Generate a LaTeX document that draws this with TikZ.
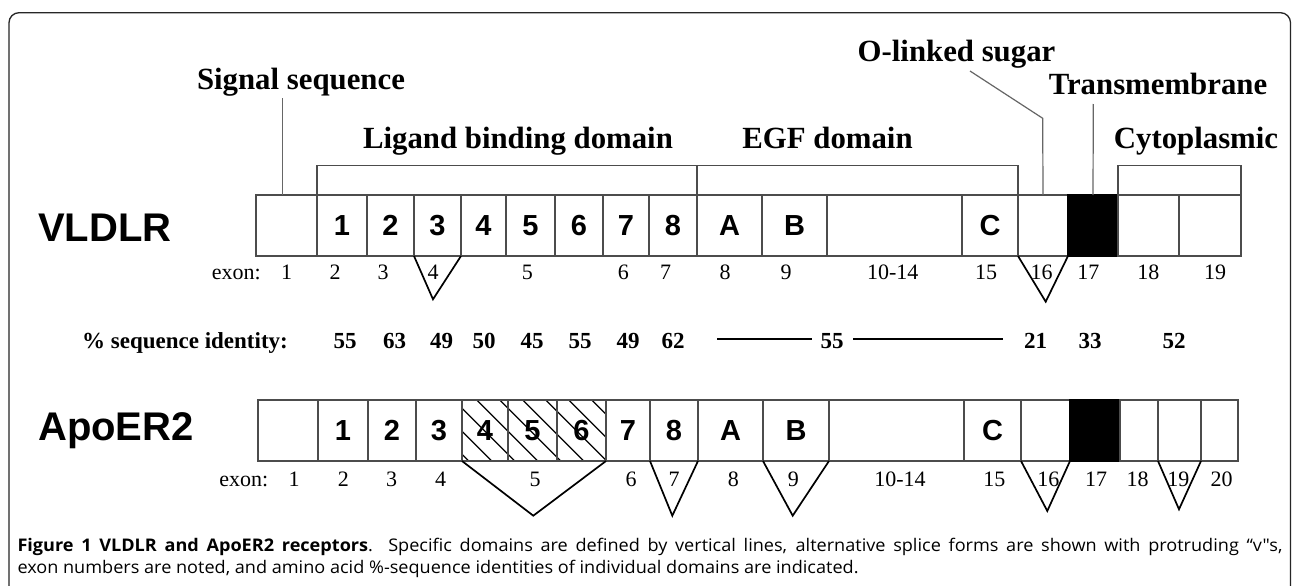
\documentclass[tikz,border=0pt]{standalone}
\usepackage{fontspec}
\setmainfont{Liberation Serif}
\newfontfamily\hsans{Liberation Sans}
\newfontfamily\capfont[FakeStretch=1.04]{Open Sans}
\definecolor{boxgray}{gray}{0.3}
\definecolor{leadgray}{gray}{0.4}
\tikzset{
  segb/.style={draw=boxgray, line width=1.4pt, minimum height=61pt, inner sep=0pt, outer sep=0pt,
    font=\hsans\bfseries\fontsize{29}{29}\selectfont},
  blackbox/.style={fill=black, draw=black},
  lab/.style={font=\bfseries\fontsize{30.8}{30.8}\selectfont, inner sep=0pt, anchor=base},
  prot/.style={font=\hsans\bfseries\fontsize{40}{40}\selectfont, inner sep=0pt, anchor=base west},
  exl/.style={font=\fontsize{22}{22}\selectfont, inner sep=0pt, anchor=base},
  idl/.style={font=\bfseries\fontsize{23}{23}\selectfont, inner sep=0pt, anchor=base},
  vline/.style={draw=black, line width=1.7pt, line join=miter},
  brk/.style={draw=boxgray, line width=1.5pt},
  lead/.style={draw=leadgray, line width=1.2pt},
  hatch/.style={draw=black, line width=1.2pt},
  idline/.style={draw=black, line width=1.7pt},
  framel/.style={draw=black!85, line width=1.3pt, rounded corners=10pt},
  capl/.style={font=\capfont\fontsize{17.4}{17.4}\selectfont, inner sep=0pt, anchor=base west}
}
\newcommand\seg[5]{\node[segb, minimum width={#3pt-#2pt}, #5] (#1) at ({(#2+#3)/2},\rowy) {#4};}
\begin{document}
\begin{tikzpicture}[x=1pt,y=-1pt]
\clip (0,0) rectangle (1293,586);
\fill[white] (0,0) rectangle (1293,586);
\draw[framel] (9,620) -- (9,12.7) -- (1290.5,12.7) -- (1290.5,620);

% ---------- VLDLR row ----------
\def\rowy{225.5}
\seg{a0}{256}{317}{}{}
\seg{a1}{317}{367}{1}{}
\seg{a2}{367}{414}{2}{}
\seg{a3}{414}{461}{3}{}
\seg{a4}{461}{506}{4}{}
\seg{a5}{506}{555}{5}{}
\seg{a6}{555}{603}{6}{}
\seg{a7}{603}{649}{7}{}
\seg{a8}{649}{697}{8}{}
\seg{aA}{697}{762}{A}{}
\seg{aB}{762}{827}{B}{}
\seg{aD}{827}{962}{}{}
\seg{aC}{962}{1018}{C}{}
\seg{a16}{1018}{1068}{}{}
\seg{a17}{1068}{1118}{}{blackbox}
\seg{a18}{1118}{1179}{}{}
\seg{a19}{1179}{1241}{}{}
\node[prot] (vldlr) at (38,241.7) {VLDLR};

% brackets and labels
\coordinate (brky) at (0,165.7);
\draw[brk] (a1.north west) -- (a1.north west |- brky) -- (aC.north east |- brky) -- (aC.north east);
\draw[brk, line width=2.6pt] (a8.north east) -- (a8.north east |- brky);
\draw[brk] (a18.north west) -- (a18.north west |- brky) -- (a19.north east |- brky) -- (a19.north east);

\node[lab] (sig) at (301,89) {Signal sequence};
\node[lab] (lig) at (518,148) {Ligand binding domain};
\node[lab] (egf) at (827.5,148) {EGF domain};
\node[lab] (olink) at (956.5,61.7) {O-linked sugar};
\node[lab] (tm) at (1158,95) {Transmembrane};
\node[lab] (cyto) at (1196,148) {Cytoplasmic};

\coordinate (sigc) at (282.7,98);
\draw[lead] (sigc) -- (sigc |- a0.north);
\coordinate (olk1) at (970,71);
\coordinate (olk2) at (1042.7,118.3);
\draw[lead] (olk1) -- (olk2) -- (a16.north);
\coordinate (tmc) at (1093.3,104);
\draw[lead] (tmc) -- (a17.north);

% splice Vs VLDLR
\coordinate (va4) at (433,299.3);
\draw[vline] (a3.south west) -- (va4) -- (a3.south east);
\coordinate (va16) at (1045.7,301.7);
\draw[vline] (a16.south west) -- (va16) -- (a16.south east);

% exon numbers VLDLR
\node[exl] (exa) at (236.2,279.3) {exon:};
\foreach \x/\t [count=\i] in {286.7/1, 335/2, 383/3, 433/4, 527.3/5, 623.3/6, 665.7/7, 725/8, 786/9,
  892.7/10-14, 986/15, 1041.7/16, 1088.3/17, 1148.3/18, 1215/19}
  \node[exl] (exa\i) at (\x,279.3) {\t};

% identity row
\node[idl] (idlab) at (185,348.3) {\% sequence identity:};
\foreach \x/\t [count=\i] in {345/55, 394.5/63, 441.5/49, 484/50, 532/45, 580/55, 628/49, 673/62,
  832/55, 1035.7/21, 1090/33, 1174/52}
  \node[idl] (id\i) at (\x,348.3) {\t};
\coordinate (l1a) at (717.3,339.3);
\coordinate (l1b) at (811.7,339.3);
\coordinate (l2a) at (853.3,339.3);
\coordinate (l2b) at (1003.3,339.3);
\draw[idline] (l1a) -- (l1b);
\draw[idline] (l2a) -- (l2b);

% ---------- ApoER2 row ----------
\def\rowy{430.5}
\begin{scope}
  \clip (462,400) rectangle (606,461);
  \foreach \k in {-4,...,5} \draw[hatch] ({476.7+23*\k},400) -- ++(61,61);
\end{scope}
\seg{b0}{258}{318}{}{}
\seg{b1}{318}{368}{1}{}
\seg{b2}{368}{416}{2}{}
\seg{b3}{416}{462}{3}{}
\seg{b4}{462}{508}{4}{}
\seg{b5}{508}{557}{5}{}
\seg{b6}{557}{606}{6}{}
\seg{b7}{606}{650}{7}{}
\seg{b8}{650}{698}{8}{}
\seg{bA}{698}{763}{A}{}
\seg{bB}{763}{829}{B}{}
\seg{bD}{829}{964}{}{}
\seg{bC}{964}{1021}{C}{}
\seg{b16}{1021}{1070}{}{}
\seg{b17}{1070}{1120}{}{blackbox}
\seg{b18}{1120}{1158}{}{}
\seg{b19}{1158}{1201}{}{}
\seg{b20}{1201}{1238}{}{}
\node[prot] (apoer) at (38,440.7) {ApoER2};

\coordinate (vb5) at (533.3,515.7);
\draw[vline] (b4.south west) -- (vb5) -- (b6.south east);
\coordinate (vb7) at (672.3,515.7);
\draw[vline] (b8.south west) -- (vb7) -- (b8.south east);
\coordinate (vb9) at (792.7,515.7);
\draw[vline] (bB.south west) -- (vb9) -- (bB.south east);
\coordinate (vb16) at (1047.3,511);
\draw[vline] (b16.south west) -- (vb16) -- (b16.south east);
\coordinate (vb19) at (1179,509.3);
\draw[vline] (b19.south west) -- (vb19) -- (b19.south east);

\node[exl] (exb) at (243.8,486) {exon:};
\foreach \x/\t [count=\i] in {294/1, 343.3/2, 391.7/3, 440.5/4, 535/5, 631/6, 674/7, 733.3/8, 793.3/9,
  900/10-14, 994.3/15, 1048.3/16, 1096/17, 1137.7/18, 1178.3/19, 1221.7/20}
  \node[exl] (exb\i) at (\x,486) {\t};

% caption
\node[capl] (cap1) at (17.3,551.7) {\makebox[1265pt][s]{\textbf{Figure 1 VLDLR and ApoER2 receptors}. Specific domains are defined by vertical lines, alternative splice forms are shown with protruding “v"s,}};
\node[capl] (cap2) at (17.3,573.3) {exon numbers are noted, and amino acid \%-sequence identities of individual domains are indicated.};
\end{tikzpicture}
\end{document}
